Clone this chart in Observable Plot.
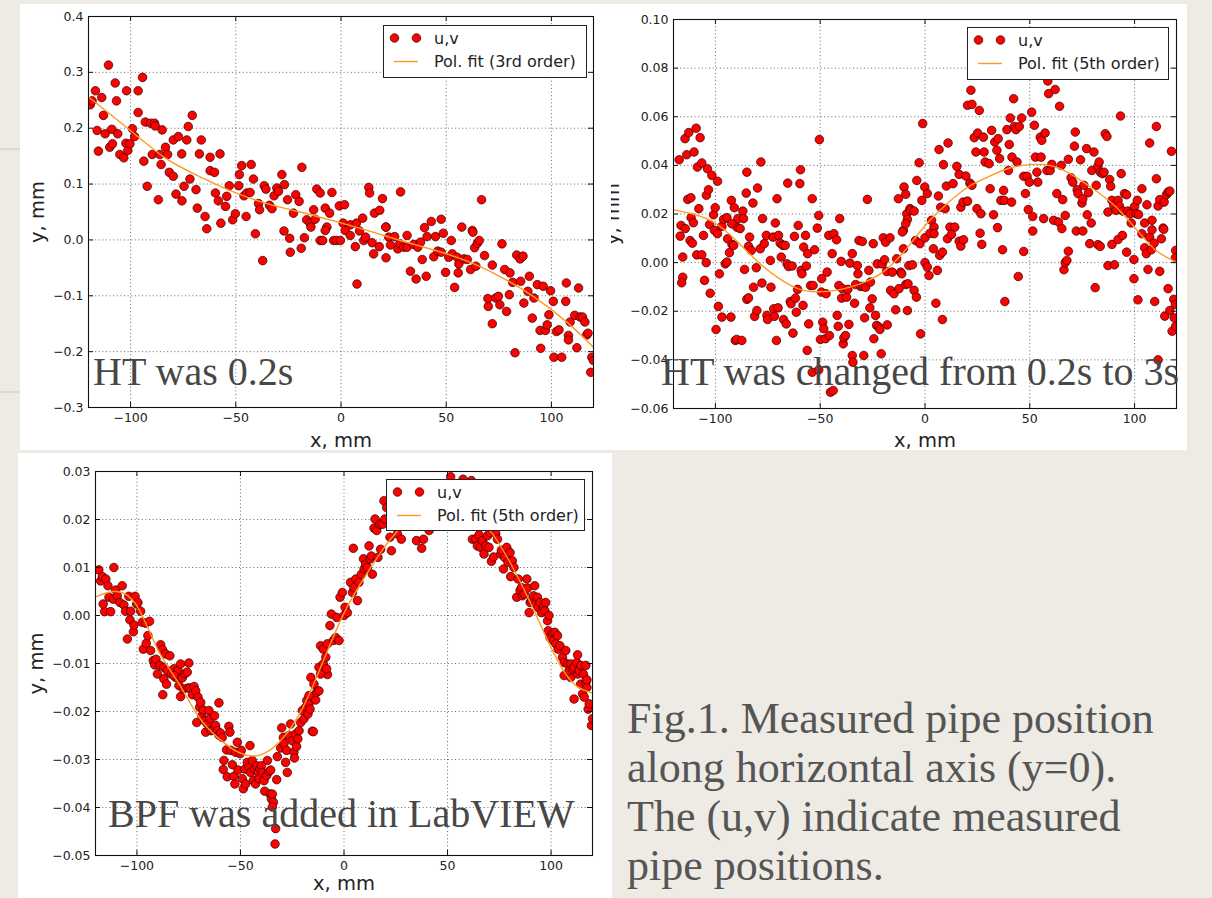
<!DOCTYPE html>
<html><head><meta charset="utf-8">
<script src="https://cdn.jsdelivr.net/npm/d3@7"></script>
<script src="https://cdn.jsdelivr.net/npm/@observablehq/plot@0.6"></script>
<style>
html,body{margin:0;padding:0}
body{width:1212px;height:898px;position:relative;overflow:hidden;background:#eeebe4;font-family:"DejaVu Sans",sans-serif}
.panel{position:absolute;background:#fff;overflow:hidden}
#overlay{position:absolute;left:0;top:0;pointer-events:none}
</style></head><body>
<div id="p1" class="panel" style="left:20px;top:4px;width:591px;height:446px"></div>
<div id="p2" class="panel" style="left:611px;top:4px;width:576px;height:446px"></div>
<div id="p3" class="panel" style="left:18px;top:453px;width:594px;height:445px"></div>
<svg id="overlay" width="1212" height="898"></svg>
<script>
// ---------- data ----------
const xTicks = [-100, -50, 0, 50, 100];
const yTicksHT02 = [-0.3, -0.2, -0.1, 0, 0.1, 0.2, 0.3, 0.4];
const yTicksHT3 = [-0.06, -0.04, -0.02, 0, 0.02, 0.04, 0.06, 0.08, 0.10];
const yTicksBPF = [-0.05, -0.04, -0.03, -0.02, -0.01, 0, 0.01, 0.02, 0.03];

const titles = ["HT was 0.2s", "HT was changed from 0.2s to 3s", "BPF was added in LabVIEW"];
const legendScatter = "u,v";
const legendFits = ["Pol. fit (3rd order)", "Pol. fit (5th order)", "Pol. fit (5th order)"];
const captionLines = ["Fig.1. Measured pipe position", "along horizontal axis (y=0).", "The (u,v) indicate measured", "pipe positions."];

// panel 1: HT 0.2 s  [x mm, y mm]
const pointsHT02 = [
[-119.2,0.242],[-118.3,0.249],[-116.7,0.267],[-115.9,0.196],[-115.3,0.159],[-113.7,0.255],[-112.9,0.223],[-112.1,0.190],[-110.5,0.313],[-109.9,0.166],[-108.9,0.198],[-108.6,0.172],[-107.3,0.281],[-106.7,0.249],[-106.1,0.190],[-105.1,0.153],[-103.2,0.147],[-102.2,0.173],[-101.9,0.267],[-101.3,0.160],[-100.3,0.172],[-99.1,0.199],[-98.1,0.185],[-96.4,0.267],[-96.4,0.228],[-94.3,0.291],[-93.7,0.141],[-93.0,0.211],[-92.1,0.096],[-90.5,0.209],[-89.7,0.153],[-88.6,0.209],[-88.3,0.204],[-86.8,0.072],[-86.1,0.153],[-85.5,0.135],[-85.0,0.197],[-83.4,0.166],[-82.4,0.153],[-81.6,0.121],[-79.7,0.114],[-79.7,0.179],[-78.4,0.082],[-77.3,0.185],[-75.7,0.154],[-75.6,0.070],[-74.6,0.096],[-73.3,0.179],[-72.6,0.203],[-71.8,0.109],[-70.7,0.223],[-68.9,0.090],[-68.3,0.057],[-67.3,0.154],[-66.4,0.179],[-64.6,0.042],[-63.8,0.020],[-62.2,0.148],[-62.2,0.124],[-60.1,0.121],[-59.7,0.084],[-58.3,0.070],[-57.5,0.154],[-57.1,0.030],[-54.9,0.060],[-54.3,0.078],[-53.1,0.097],[-51.5,0.036],[-50.2,0.047],[-48.6,0.097],[-48.3,0.117],[-47.2,0.133],[-46.1,0.079],[-45.1,0.042],[-44.8,0.084],[-43.2,0.085],[-42.7,0.135],[-41.6,0.109],[-39.2,0.065],[-38.7,0.054],[-36.5,0.097],[-35.7,0.091],[-34.0,0.062],[-32.8,0.056],[-31.8,0.079],[-30.5,0.093],[-29.7,0.087],[-28.1,0.117],[-26.9,0.099],[-25.4,0.072],[-22.6,0.048],[-21.5,0.081],[-19.9,0.069],[-18.6,0.130],[-16.3,0.036],[-14.7,0.030],[-13.0,0.054],[-12.3,0.037],[-11.5,0.091],[-9.9,0.084],
[-40.7,0.011],[-37.2,-0.037],[-27.1,0.016],[-24.4,0.003],[-24.1,-0.022],[-18.9,-0.015],[-17.4,0.004],[-14.3,0.023],[-9.9,-0.001],
[-4.3,0.085],[-7.5,0.057],[-5.4,0.048],[-6.7,0.023],[-0.8,0.061],[1.7,0.063],[1.0,0.030],[4.4,0.027],[7.3,0.030],[10.3,0.039],[13.2,0.094],[13.6,0.084],[15.9,0.048],[18.4,0.053],[19.7,0.074],[21.4,0.023],[28.3,0.086],[39.7,0.022],[42.9,0.033],[47.6,0.037],[57.4,0.023],[62.4,0.017],[66.8,0.072],
[-8.7,-0.001],[-7.5,0.017],[-3.5,-0.001],[-2.2,-0.001],[-0.3,-0.001],[2.0,0.017],[4.4,0.008],[6.8,-0.012],[7.6,-0.079],[8.8,0.016],[10.8,-0.001],[11.7,0.005],[14.8,-0.005],[15.5,-0.025],[18.2,-0.012],[21.3,0.023],[21.4,-0.032],[22.7,0.005],[23.5,-0.009],[25.5,0.006],[27.0,-0.016],[27.9,-0.007],[29.8,-0.013],[31.4,-0.013],[31.4,0.008],[33.0,-0.056],[34.6,-0.008],[35.7,-0.070],[36.5,-0.013],[37.8,-0.004],[38.6,-0.035],[40.5,-0.065],[40.9,0.006],[44.1,-0.030],[44.9,0.006],[46.0,-0.020],[47.6,-0.022],[48.6,0.012],[49.7,-0.058],[51.2,-0.031],[52.4,-0.001],[52.9,-0.025],[54.0,-0.085],[55.2,-0.031],[55.7,-0.059],[56.0,-0.043],[58.4,-0.034],[60.0,-0.035],[61.6,-0.053],[62.7,0.014],[63.5,-0.014],[64.1,-0.047],[64.8,-0.006],[65.7,-0.001],[68.2,-0.028],[69.8,-0.105],[70.0,-0.119],[71.9,-0.045],[71.9,-0.150],[73.5,-0.104],[74.8,-0.101],[75.5,-0.116],[76.5,-0.007],[77.8,-0.053],[78.7,-0.128],[80.0,-0.098],[80.3,-0.059],[81.6,-0.076],[82.7,-0.202],[83.5,-0.027],[85.1,-0.034],[85.4,-0.074],[86.5,-0.029],[86.9,-0.113],[88.8,-0.092],[89.5,-0.065],[90.9,-0.140],[91.7,-0.104],[93.3,-0.080],[94.6,-0.162],[94.9,-0.194],[96.1,-0.083],[97.2,-0.162],[98.0,-0.152],[98.8,-0.134],[99.6,-0.091],[100.9,-0.110],[101.2,-0.210],[102.4,-0.164],[103.6,-0.161],[104.9,-0.210],[106.8,-0.110],[107.1,-0.077],[108.1,-0.171],[108.1,-0.179],[108.9,-0.147],[111.1,-0.135],[112.1,-0.193],[112.9,-0.086],[113.6,-0.138],[114.8,-0.138],[115.9,-0.147],[116.8,-0.170],[117.4,-0.167],[118.7,-0.237],[119.2,-0.210],[120,-0.216]
];
const fitHT02 = [[-120,0.256],[-98.8,0.192],[-82.9,0.145],[-67.0,0.113],[-51.1,0.086],[-35.2,0.065],[-19.4,0.050],[-3.5,0.034],[12.4,0.017],[28.2,-0.001],[44.1,-0.018],[60.0,-0.038],[75.8,-0.066],[91.7,-0.102],[107.6,-0.148],[120,-0.192]];

// panel 2: HT changed to 3 s
const pointsHT3 = [
[-117.3,0.0423],[-116.4,0.0153],[-114.5,0.0510],[-113.7,0.0444],[-112.7,0.0535],[-113.2,0.0260],[-111.7,0.0267],[-111.6,0.0185],[-110.2,0.0455],[-109.2,0.0553],[-108.6,0.0393],[-107.9,0.0222],[-107.3,0.0514],[-110.5,0.0164],[-114.4,0.0140],[-106.5,0.0410],[-104.3,0.0277],[-103.8,0.0386],[-103.3,0.0300],[-101.7,0.0359],[-102.8,0.0157],[-100.9,0.0197],[-100.1,0.0226],[-99.0,0.0335],[-96.9,0.0149],[-96.1,0.0178],[-94.5,0.0185],[-92.4,0.0256],[-91.0,0.0226],[-89.8,0.0146],[-89.3,0.0181],[-88.2,0.0140],[-86.9,0.0212],[-86.6,0.0181],[-85.3,0.0286],[-85.0,0.0372],[-82.1,0.0245],[-79.9,0.0307],[-78.3,0.0414],[-77.5,0.0181],[-71.4,0.0163],[-70.6,0.0263],[-65.5,0.0327],[-60.5,0.0153],[-59.7,0.0325],[-59.4,0.0382],[-53.8,0.0263],[-51.4,0.0142],[-50.7,0.0194],[-50.4,0.0506],[-40.7,0.0181],[-27.5,0.0260],[-12.7,0.0263],[-10.0,0.0311],[-9.2,0.0281],[-8.7,0.0201],[-8.4,0.0178],[-7.2,0.0222],[-10.3,0.0133],[-92.2,0.0160],
[-116.8,0.0109],[-115.6,0.0023],[-115.6,-0.0060],[-116.1,-0.0083],[-112.1,0.0091],[-111.0,0.0080],[-108.9,0.0032],[-106.5,0.0032],[-105.7,0.0112],[-105.2,-0.0073],[-104.4,0.0000],[-102.5,-0.0126],[-100.5,0.0133],[-99.0,0.0119],[-99.7,-0.0275],[-98.6,-0.0180],[-98.1,-0.0046],[-96.9,-0.0224],[-95.3,-0.0005],[-94.5,0.0002],[-94.2,0.0098],[-93.3,0.0041],[-92.6,-0.0224],[-92.1,0.0075],[-91.3,0.0071],[-90.5,-0.0320],[-89.8,-0.0316],[-87.4,-0.0320],[-86.1,-0.0028],[-85.0,-0.0151],[-84.2,-0.0145],[-83.7,0.0105],[-84.2,0.0067],[-82.9,0.0050],[-81.8,-0.0101],[-81.3,-0.0221],[-80.5,-0.0021],[-80.2,-0.0197],[-78.6,0.0057],[-77.8,-0.0084],[-76.7,0.0078],[-75.7,0.0112],[-75.4,-0.0217],[-75.1,-0.0234],[-73.8,0.0009],[-73.5,-0.0101],[-72.5,0.0105],[-72.2,-0.0190],[-71.9,-0.0221],[-70.9,-0.0320],[-70.1,-0.0186],[-69.9,0.0112],[-69.1,0.0080],[-68.6,0.0023],[-67.8,0.0071],[-67.5,-0.0234],[-66.7,0.0071],[-66.2,-0.0252],[-65.8,-0.0005],[-65.1,-0.0016],[-64.3,-0.0160],[-63.9,-0.0169],[-63.4,-0.0014],[-63.0,-0.0290],[-62.3,0.0108],[-61.8,-0.0146],[-61.4,-0.0204],[-60.8,-0.0110],[-59.1,-0.0032],[-58.7,-0.0046],[-58.2,-0.0176],[-57.9,0.0064],[-57.0,0.0112],[-56.6,-0.0014],[-56.2,-0.0361],[-56.0,0.0037],[-55.5,-0.0252],[-54.6,-0.0094],[-53.8,-0.0451],[-53.4,-0.0094],[-52.7,0.0053],[-50.7,-0.0441],[-49.9,-0.0316],[-49.4,-0.0121],[-49.3,-0.0066],[-48.8,-0.0245],[-48.3,-0.0272],[-47.5,-0.0313],[-47.2,-0.0128],[-46.7,-0.0039],[-45.9,0.0112],[-45.6,-0.0300],[-45.1,-0.0533],[-44.3,0.0037],[-43.8,-0.0526],[-43.5,0.0119],[-42.2,0.0094],[-41.9,-0.0217],[-41.4,-0.0262],[-41.1,-0.0094],[-40.0,0.0005],[-39.8,-0.0146],[-39.5,-0.0107],[-39.0,-0.0334],[-38.7,-0.0309],[-37.9,-0.0300],[-37.4,-0.0142],[-36.8,-0.0110],[-36.3,-0.0254],[-35.8,-0.0002],[-34.7,0.0037],[-34.7,-0.0382],[-34.4,-0.0410],[-33.6,-0.0167],[-33.1,-0.0090],[-32.3,-0.0012],[-32.0,-0.0046],[-31.5,0.0091],[-30.7,-0.0098],[-29.9,0.0087],[-29.5,-0.0098],[-29.2,-0.0382],[-28.8,-0.0227],[-28.3,-0.0101],[-26.8,-0.0032],[-26.3,-0.0186],[-26.0,-0.0080],[-25.2,-0.0149],[-24.7,0.0078],[-24.4,-0.0313],[-23.6,-0.0217],[-23.1,-0.0258],[-22.8,-0.0005],[-22.0,-0.0265],[-21.5,-0.0275],[-20.9,-0.0375],[-20.4,-0.0005],[-19.9,0.0102],[-19.3,0.0012],[-18.8,0.0084],[-18.3,-0.0036],[-18.0,-0.0256],[-16.7,0.0102],[-16.4,-0.0114],[-15.6,-0.0039],[-14.8,-0.0128],[-14.0,-0.0194],[-13.5,0.0016],[-12.4,-0.0107],[-11.6,-0.0039],[-10.8,0.0126],[-10.3,0.0057],[-9.2,-0.0090],[-8.4,-0.0197],[-7.7,-0.0012],
[-9.2,0.0160],[-6.8,0.0215],[-5.2,0.0212],[-3.9,0.0338],[-2.8,0.0411],[-1.5,0.0256],[-1.1,0.0572],[-0.1,0.0311],[1.1,0.0284],[3.1,0.0174],[4.3,0.0146],[6.4,0.0274],[6.7,0.0465],[7.5,0.0228],[8.8,0.0403],[9.6,0.0222],[10.2,0.0315],[11.0,0.0492],[11.9,0.0146],[13.4,0.0325],[14.2,0.0146],[15.2,0.0396],[16.3,0.0363],[17.1,0.0228],[18.2,0.0249],[19.5,0.0356],[20.3,0.0253],[20.3,0.0647],[21.4,0.0327],[21.9,0.0709],[22.4,0.0651],[22.4,0.0318],[23.5,0.0514],[24.3,0.0455],[24.8,0.0222],[25.1,0.0533],[25.9,0.0626],[26.7,0.0201],[27.9,0.0516],[28.2,0.0455],[28.7,0.0414],[30.6,0.0407],[31.1,0.0304],[31.8,0.0544],[32.7,0.0197],[33.3,0.0496],[34.3,0.0462],[34.9,0.0510],[35.6,0.0428],[36.2,0.0256],[37.5,0.0297],[37.8,0.0256],[39.1,0.0547],[39.8,0.0379],[40.2,0.0486],[40.7,0.0595],[41.3,0.0249],[41.5,0.0434],[42.3,0.0674],[42.6,0.0560],[43.4,0.0547],[43.9,0.0414],[45.0,0.0560],[46.1,0.0595],[47.1,0.0355],[47.9,0.0284],[48.7,0.0355],[49.3,0.0218],[49.8,0.0331],[50.9,0.0619],[51.4,0.0190],[52.2,0.0565],[52.7,0.0434],[53.4,0.0372],[53.8,0.0331],[55.0,0.0516],[55.4,0.0434],[55.7,0.0503],[56.6,0.0181],[57.3,0.0533],[58.2,0.0379],[58.6,0.0747],[59.0,0.0695],[59.7,0.0379],[60.5,0.0404],[61.4,0.0174],[62.1,0.0712],[62.9,0.0284],[63.7,0.0167],[64.2,0.0643],[65.0,0.0400],[65.7,0.0259],[66.9,0.0194],[68.4,0.0425],[69.7,0.0349],[70.5,0.0331],[71.3,0.0479],[71.7,0.0537],[72.6,0.0300],[73.0,0.0284],[74.2,0.0423],[74.9,0.0245],[75.3,0.0263],[75.8,0.0318],[77.1,0.0469],[77.4,0.0197],[78.0,0.0288],[79.3,0.0163],[79.6,0.0379],[80.6,0.0455],[81.7,0.0318],[82.5,0.0397],[83.1,0.0414],[83.7,0.0372],[84.6,0.0366],[85.4,0.0372],[86.0,0.0530],[86.8,0.0519],[87.3,0.0208],[88.1,0.0342],[88.6,0.0314],[89.2,0.0256],[90.1,0.0235],[91.2,0.0215],[92.1,0.0256],[92.8,0.0233],[93.3,0.0603],[93.6,0.0366],[94.4,0.0212],[95.2,0.0284],[96.2,0.0279],[96.8,0.0212],[97.8,0.0201],[98.4,0.0163],[100.0,0.0231],[100.8,0.0201],[101.3,0.0256],[101.9,0.0198],[103.5,0.0304],[104.8,0.0163],[105.9,0.0238],[107.2,0.0492],[108.3,0.0174],[110.4,0.0560],[110.4,0.0345],[111.2,0.0233],[112.0,0.0259],[113.6,0.0142],[114.1,0.0249],[115.2,0.0279],[116.0,0.0290],[116.8,0.0294],[117.6,0.0458],
[-11.1,-0.0046],[-8.1,-0.0087],[-6.0,-0.0009],[-5.2,-0.0114],[-4.1,-0.0142],[-4.5,0.0091],[-2.4,0.0078],[-2.1,-0.0293],[0.0,0.0000],[0.0,0.0102],[1.1,-0.0018],[1.9,-0.0053],[2.4,0.0121],[4.0,0.0057],[4.3,0.0119],[5.2,-0.0167],[5.9,-0.0032],[7.0,0.0030],[8.3,0.0043],[8.3,-0.0234],[10.7,0.0098],[12.6,0.0116],[16.3,0.0088],[17.1,0.0068],[18.4,0.0094],[26.3,0.0121],[27.1,0.0075],[34.6,0.0144],[37.0,0.0053],[38.1,-0.0160],[44.5,-0.0057],[47.1,0.0046],[51.4,0.0130],[65.3,0.0140],[66.3,-0.0029],[66.9,0.0000],[67.7,0.0009],[68.4,0.0047],[72.2,0.0130],[75.3,0.0130],[78.6,0.0078],[81.2,-0.0103],[82.5,0.0074],[83.6,0.0067],[87.3,-0.0012],[89.2,0.0075],[90.4,-0.0009],[92.1,0.0095],[94.2,0.0112],[96.2,0.0043],[99.7,0.0013],[99.7,-0.0066],[101.6,-0.0153],[103.5,0.0119],[104.8,0.0061],[105.6,0.0037],[106.4,-0.0028],[107.2,0.0105],[108.0,0.0053],[108.3,0.0135],[109.3,0.0080],[109.6,-0.0160],[111.2,-0.0400],[112.0,-0.0036],[112.8,0.0098],[113.9,0.0137],[114.4,-0.0220],[116.0,-0.0107],[116.8,-0.0197],[117.9,-0.0282],[118.7,-0.0151],[118.9,-0.0227],[119.5,-0.0172],[119.6,-0.0262],[119.6,0.0050],[119.5,0.0020]
];
const fitHT3 = [[-120,0.0218],[-110,0.0198],[-100,0.0162],[-90,0.0090],[-80,0.0006],[-70,-0.0063],[-60,-0.0109],[-50,-0.0120],[-40,-0.0110],[-30,-0.0084],[-20,-0.0038],[-10,0.0045],[0,0.0152],[10,0.0238],[20,0.0308],[30,0.0352],[40,0.0388],[50,0.0403],[60,0.0399],[70,0.0362],[80,0.0305],[90,0.0238],[100,0.0145],[110,0.0052],[120,0.0002]];

// panel 3: BPF added
const pointsBPF = [
[-118.4,0.0095],[-117.5,0.0072],[-116.7,0.0081],[-115.6,0.0008],[-116.3,0.0024],[-115.0,0.0076],[-114.0,0.0062],[-113.5,0.0038],[-112.7,0.0008],[-111.1,0.0100],[-111.4,0.0034],[-110.3,0.0053],[-109.5,0.0041],[-108.2,0.0027],[-107.1,0.0062],[-106.3,0.0022],[-105.5,0.0009],[-104.6,-0.0049],[-103.9,0.0040],[-103.0,0.0009],[-103.4,-0.0009],[-101.7,-0.0034],[-101.4,-0.0020],[-100.9,0.0040],[-100.1,0.0024],[-99.5,0.0027],[-98.2,0.0009],[-97.4,-0.0014],[-96.9,-0.0070],[-95.8,-0.0016],[-95.5,-0.0058],[-94.7,-0.0042],[-93.9,-0.0012],[-93.4,-0.0073],[-92.1,-0.0094],[-91.4,-0.0103],[-90.8,-0.0091],[-90.1,-0.0122],[-88.5,-0.0061],[-87.7,-0.0071],[-88.9,-0.0104],[-87.0,-0.0108],[-86.2,-0.0080],[-85.4,-0.0115],[-84.1,-0.0084],[-83.4,-0.0122],[-82.1,-0.0111],[-81.3,-0.0129],[-80.2,-0.0115],[-78.9,-0.0101],[-78.1,-0.0130],[-76.8,-0.0121],[-75.7,-0.0118],[-74.9,-0.0099],
[-87.0,-0.0132],[-85.7,-0.0143],[-87.5,-0.0165],[-82.1,-0.0125],[-79.7,-0.0146],[-78.9,-0.0169],[-77.6,-0.0153],[-75.4,-0.0151],[-74.4,-0.0151],[-73.2,-0.0165],[-72.4,-0.0148],[-71.6,-0.0157],[-71.1,-0.0223],[-70.5,-0.0170],[-69.7,-0.0191],[-69.2,-0.0181],[-68.7,-0.0209],[-67.9,-0.0197],[-67.3,-0.0219],[-66.8,-0.0243],[-66.0,-0.0226],[-65.2,-0.0198],[-64.7,-0.0215],[-64.1,-0.0240],[-63.1,-0.0238],[-62.5,-0.0209],[-62.0,-0.0229],[-61.2,-0.0240],[-60.4,-0.0182],[-60.4,-0.0249],[-59.6,-0.0245],[-58.8,-0.0254],[-58.3,-0.0321],[-58.0,-0.0302],[-56.7,-0.0280],[-56.4,-0.0336],[-55.6,-0.0231],[-55.1,-0.0243],[-54.7,-0.0281],[-53.9,-0.0311],[-53.1,-0.0335],[-52.7,-0.0351],[-52.3,-0.0285],[-51.5,-0.0264],[-51.2,-0.0322],[-50.2,-0.0288],[-49.6,-0.0281],[-49.1,-0.0340],[-48.6,-0.0361],[-47.8,-0.0320],[-47.5,-0.0351],[-46.7,-0.0306],[-45.9,-0.0316],[-45.4,-0.0271],[-45.1,-0.0327],[-44.3,-0.0302],[-43.8,-0.0344],[-43.2,-0.0320],[-42.7,-0.0351],[-42.2,-0.0313],[-41.5,-0.0327],[-41.1,-0.0340],[-40.6,-0.0320],[-39.9,-0.0313],[-39.4,-0.0327],[-38.6,-0.0344],[-38.3,-0.0366],[-37.3,-0.0333],[-37.0,-0.0302],[-36.2,-0.0325],[-35.7,-0.0372],[-35.4,-0.0322],[-35.1,-0.0382],[-34.6,-0.0372],[-34.1,-0.0389],[-34.6,-0.0399],[-33.0,-0.0444],[-33.3,-0.0476],[-32.5,-0.0342],[-32.2,-0.0294],[-30.6,-0.0276],[-30.1,-0.0234],[-29.3,-0.0254],[-29.0,-0.0267],[-28.2,-0.0306],[-27.7,-0.0281],[-27.4,-0.0327],[-26.6,-0.0250],[-25.8,-0.0226],[-25.0,-0.0261],[-24.2,-0.0285],[-23.9,-0.0297],[-23.4,-0.0247],[-22.9,-0.0273],[-22.3,-0.0257],[-21.7,-0.0240],[-20.9,-0.0223],[-20.1,-0.0198],[-19.3,-0.0215],[-18.5,-0.0191],[-18.0,-0.0177],[-17.4,-0.0205],[-16.9,-0.0184],[-16.4,-0.0195],[-15.3,-0.0241],[-16.0,-0.0129],[-14.5,-0.0143],[-13.7,-0.0176],[-13.2,-0.0160],[-12.1,-0.0157],
[-16.9,-0.0167],[-14.8,-0.0242],[-8.0,-0.0123],
[106.3,-0.0125],[109.5,-0.0129],[111.1,-0.0174],[112.8,-0.0122],[114.3,-0.0143],[115.2,-0.0163],[116.0,-0.0170],[116.8,-0.0139],[117.3,-0.0150],[117.9,-0.0195],[118.4,-0.0184],[119.5,-0.0229],[120,-0.0215],
[-12.1,-0.0108],[-11.3,-0.0122],[-10.0,-0.0101],[-8.4,-0.0111],[-8.8,-0.0087],[-11.3,-0.0063],[-10.0,-0.0070],[-8.0,-0.0059],[-6.8,-0.0021],[-6.1,0.0003],[-5.1,-0.0052],[-4.0,-0.0046],[-3.5,-0.0004],[-2.4,-0.0052],[-1.9,0.0038],[-0.8,0.0048],[0.0,0.0000],[0.5,0.0017],[1.6,0.0006],[3.2,0.0069],[4.1,0.0048],[4.5,0.0140],[4.8,0.0058],[5.7,0.0076],[6.5,0.0031],[7.2,0.0069],[8.4,0.0086],[9.4,0.0118],[9.7,0.0097],[10.5,0.0107],[11.3,0.0100],[12.1,0.0145],[12.6,0.0118],[13.2,0.0124],[13.7,0.0086],[14.5,0.0182],[15.0,0.0201],[15.8,0.0177],[16.4,0.0121],[17.7,0.0138],[17.4,0.0190],[18.6,0.0190],[19.3,0.0239],[19.7,0.0201],[20.6,0.0225],[22.2,0.0163],[22.9,0.0135],[23.4,0.0218],[25.8,0.0170],[27.7,0.0159],[35.0,0.0156],[37.5,0.0140],[38.4,0.0159],[41.1,0.0177],[51.5,0.0289],[57.5,0.0284],[61.5,0.0281],[62.0,0.0159],[63.6,0.0159],[64.4,0.0145],[65.2,0.0168],[66.0,0.0142],[66.9,0.0156],[67.6,0.0128],[68.5,0.0145],[69.3,0.0166],[70.0,0.0142],[70.5,0.0173],[71.2,0.0113],[72.2,0.0122],[73.3,0.0171],[74.1,0.0159],[75.7,0.0128],[76.0,0.0136],[77.0,0.0097],[77.6,0.0121],[78.6,0.0142],[79.2,0.0111],[80.2,0.0131],[80.5,0.0081],[81.3,0.0114],[82.1,0.0100],[83.4,0.0038],[84.1,0.0076],[85.0,0.0052],[85.7,0.0058],[86.2,0.0041],[87.0,0.0045],[88.3,0.0076],[88.6,0.0057],[89.4,0.0006],[89.9,0.0027],[90.5,0.0032],[91.5,0.0041],[92.1,0.0062],[92.6,0.0024],[93.4,0.0038],[93.7,0.0017],[94.7,0.0027],[95.4,0.0006],[96.3,0.0017],[97.0,0.0010],[97.4,0.0027],[98.3,-0.0011],[99.0,0.0000],[98.6,-0.0032],[99.5,-0.0046],[100.7,-0.0037],[101.2,-0.0052],[101.8,-0.0035],[102.3,-0.0059],[103.1,-0.0042],[103.4,-0.0070],[104.3,-0.0063],[105.5,-0.0087],[106.3,-0.0098],[107.1,-0.0073],[107.9,-0.0101],[108.7,-0.0115],[109.5,-0.0101],[110.3,-0.0111],[111.1,-0.0108],[112.4,-0.0098],[113.5,-0.0115],[112.8,-0.0082],[114.3,-0.0104],[115.6,-0.0122],[116.8,-0.0104],[117.3,-0.0134]
];
const fitBPF = [[-120,0.0039],[-110,0.0050],[-100,0.0020],[-90,-0.0070],[-80,-0.0140],[-70,-0.0212],[-60,-0.0258],[-50,-0.0287],[-40,-0.0290],[-30,-0.0258],[-20,-0.0193],[-10,-0.0095],[0,0.0005],[10,0.0080],[20,0.0145],[30,0.0195],[40,0.0225],[50,0.0232],[60,0.0218],[70,0.0180],[80,0.0112],[90,0.0027],[100,-0.0067],[110,-0.0138],[120,-0.0162]];

// ---------- drawing ----------
const fmtX = d3.format("d");
const DOT_FILL = "#ff0000", FIT = "#ff9a1f";

function panel(el, c) {
  const iw = c.width - c.ml - c.mr, ih = c.height - c.mt - c.mb;
  const grid = {stroke: "#444", strokeWidth: 0.8, strokeDasharray: "1,2.6"};
  const tick = {stroke: "#111", strokeWidth: 1};
  const chart = Plot.plot({
    width: c.width, height: c.height,
    marginLeft: c.ml, marginRight: c.mr, marginTop: c.mt, marginBottom: c.mb,
    x: {domain: [-120, 120]},
    y: {domain: c.yDomain},
    style: {background: "transparent", fontFamily: "'DejaVu Sans', sans-serif", fontSize: "12.5px", color: "#222"},
    marks: [
      Plot.ruleX(xTicks, {x: d => d, ...grid}),
      Plot.ruleY(c.yTicks, {y: d => d, ...grid}),
      Plot.dot(c.points, {x: d => d[0], y: d => d[1], r: 4.3, fill: DOT_FILL, stroke: "#2a0000", strokeWidth: 0.7, clip: true}),
      Plot.line(c.fit, {x: d => d[0], y: d => d[1], stroke: FIT, strokeWidth: 1.4, curve: "natural", clip: true}),
      Plot.frame({stroke: "#111", strokeWidth: 1.1}),
      Plot.ruleX(xTicks, {x: d => d, insetTop: ih - 5, ...tick}),
      Plot.ruleX(xTicks, {x: d => d, insetBottom: ih - 5, ...tick}),
      Plot.ruleY(c.yTicks, {y: d => d, insetRight: iw - 5, ...tick}),
      Plot.ruleY(c.yTicks, {y: d => d, insetLeft: iw - 5, ...tick}),
      Plot.axisX({ticks: xTicks, tickFormat: fmtX, tickSize: 0, tickPadding: 6, fontSize: 12.5, label: null}),
      Plot.axisY({ticks: c.yTicks, tickFormat: c.yFmt, tickSize: 0, tickPadding: 5, fontSize: 12.5, label: null}),
      Plot.text(["x, mm"], {text: d => d, frameAnchor: "bottom", lineAnchor: "middle", textAnchor: "middle", dy: c.xLabelDy, fontSize: 19.5}),
      Plot.text(["y, mm"], {text: d => d, frameAnchor: "left", lineAnchor: "middle", textAnchor: "middle", dx: c.yLabelDx, rotate: -90, fontSize: 19.5})
    ]
  });
  el.appendChild(chart);
}

panel(document.getElementById("p1"), {
  width: 591, height: 446, ml: 68, mr: 18, mt: 12, mb: 43,
  yDomain: [-0.3, 0.4], yTicks: yTicksHT02, yFmt: d3.format(".1f"),
  points: pointsHT02, fit: fitHT02, xLabelDy: 33, yLabelDx: -51
});
panel(document.getElementById("p2"), {
  width: 576, height: 446, ml: 62, mr: 11, mt: 15, mb: 42,
  yDomain: [-0.06, 0.10], yTicks: yTicksHT3, yFmt: d3.format(".2f"),
  points: pointsHT3, fit: fitHT3, xLabelDy: 32, yLabelDx: -61
});
panel(document.getElementById("p3"), {
  width: 594, height: 445, ml: 77, mr: 20, mt: 18, mb: 43,
  yDomain: [-0.05, 0.03], yTicks: yTicksBPF, yFmt: d3.format(".2f"),
  points: pointsBPF, fit: fitBPF, xLabelDy: 28, yLabelDx: -59
});

// ---------- overlay: legends, slide text ----------
const svg = d3.select("#overlay");
[149, 392].forEach(y => svg.append("line").attr("x1", 0).attr("x2", 20).attr("y1", y).attr("y2", y).attr("stroke", "#cdc8c0").attr("stroke-width", 1));

const legends = [
  {x: 383, y: 25, w: 203, h: 52, fit: legendFits[0]},
  {x: 967, y: 27, w: 201, h: 52, fit: legendFits[1]},
  {x: 386, y: 479, w: 198, h: 51, fit: legendFits[2]}
];
legends.forEach(L => {
  const g = svg.append("g");
  g.append("rect").attr("x", L.x + 0.5).attr("y", L.y + 0.5).attr("width", L.w).attr("height", L.h)
    .attr("fill", "#fff").attr("stroke", "#222").attr("stroke-width", 1);
  [11.5, 33.5].forEach(dx => g.append("circle").attr("cx", L.x + dx).attr("cy", L.y + 13).attr("r", 4.3)
    .attr("fill", DOT_FILL).attr("stroke", "#2a0000").attr("stroke-width", 0.7));
  g.append("line").attr("x1", L.x + 11).attr("x2", L.x + 35).attr("y1", L.y + 36.5).attr("y2", L.y + 36.5)
    .attr("stroke", FIT).attr("stroke-width", 1.4);
  g.append("text").attr("x", L.x + 51).attr("y", L.y + 18.5).text(legendScatter)
    .attr("font-family", "DejaVu Sans").attr("font-size", 16).attr("fill", "#222");
  g.append("text").attr("x", L.x + 51).attr("y", L.y + 42).text(L.fit)
    .attr("font-family", "DejaVu Sans").attr("font-size", 16).attr("fill", "#222");
});

const serif = "'Liberation Serif', 'DejaVu Serif', serif";
[[93, 385, titles[0]], [661, 385, titles[1]], [108, 827, titles[2]]].forEach(([x, y, t]) =>
  svg.append("text").attr("x", x).attr("y", y).text(t)
    .attr("font-family", serif).attr("font-size", 40).attr("fill", "#474747"));

captionLines.forEach((t, i) =>
  svg.append("text").attr("x", 627).attr("y", 733 + i * 49).text(t)
    .attr("font-family", serif).attr("font-size", 44).attr("fill", "#555"));
</script>
</body></html>
